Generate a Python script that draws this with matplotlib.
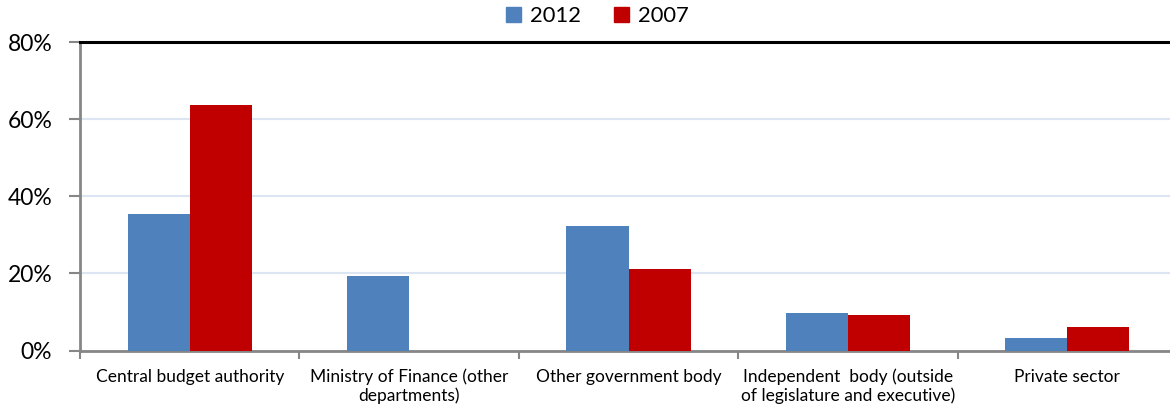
import matplotlib
matplotlib.use("Agg")
import matplotlib.pyplot as plt
from matplotlib.patches import Patch
from matplotlib.ticker import FuncFormatter
import numpy as np

plt.rcParams['font.family'] = ['Lato', 'DejaVu Sans']

categories = [
    "Central budget authority",
    "Ministry of Finance (other\ndepartments)",
    "Other government body",
    "Independent  body (outside\nof legislature and executive)",
    "Private sector",
]
series_names = ["2012", "2007"]
values_2012 = [35.5, 19.4, 32.3, 9.7, 3.3]
values_2007 = [63.7, 0.0, 21.2, 9.1, 6.1]
y_ticks = [0, 20, 40, 60, 80]

blue = "#4f81bd"
red = "#c00000"

fig = plt.figure(figsize=(11.7, 4.07), dpi=100)
ax = fig.add_axes([80 / 1170, (407 - 350.5) / 407, 1097 / 1170, 308.5 / 407])

x = np.arange(len(categories))
w = 0.283
ax.bar(x - w / 2, values_2012, width=w, color=blue, zorder=3)
ax.bar(x + w / 2, values_2007, width=w, color=red, zorder=3)

ax.set_xlim(-0.5, len(categories) - 0.5)
ax.set_ylim(0, 80)
ax.set_yticks(y_ticks)
ax.yaxis.set_major_formatter(FuncFormatter(lambda v, p: f"{v:.0f}%"))
ax.tick_params(axis='y', labelsize=16.5, length=8, width=1.5, color="#868686", pad=12)

ax.set_xticks(x)
ax.set_xticklabels(categories, fontsize=12.5, linespacing=1.2)
ax.tick_params(axis='x', length=0, pad=13)
ax.set_xticks(np.arange(len(categories) + 1) - 0.5, minor=True)
ax.tick_params(axis='x', which='minor', length=6, width=1.5, color="#868686")

ax.grid(axis='y', color="#dce6f2", linewidth=1.5, zorder=0)

ax.spines['right'].set_visible(False)
ax.spines['top'].set_color("black")
ax.spines['top'].set_linewidth(2.2)
ax.spines['left'].set_color("#868686")
ax.spines['left'].set_linewidth(2)
ax.spines['bottom'].set_color("#868686")
ax.spines['bottom'].set_linewidth(2)

handles = [Patch(color=blue), Patch(color=red)]
fig.legend(handles, series_names, loc='center', bbox_to_anchor=(597 / 1170, 1 - 16 / 407),
           ncol=2, frameon=False, fontsize=15.8, handlelength=0.7, handleheight=0.7,
           handletextpad=0.4, columnspacing=1.5, borderaxespad=0)

fig.savefig("out.png", dpi=100)
